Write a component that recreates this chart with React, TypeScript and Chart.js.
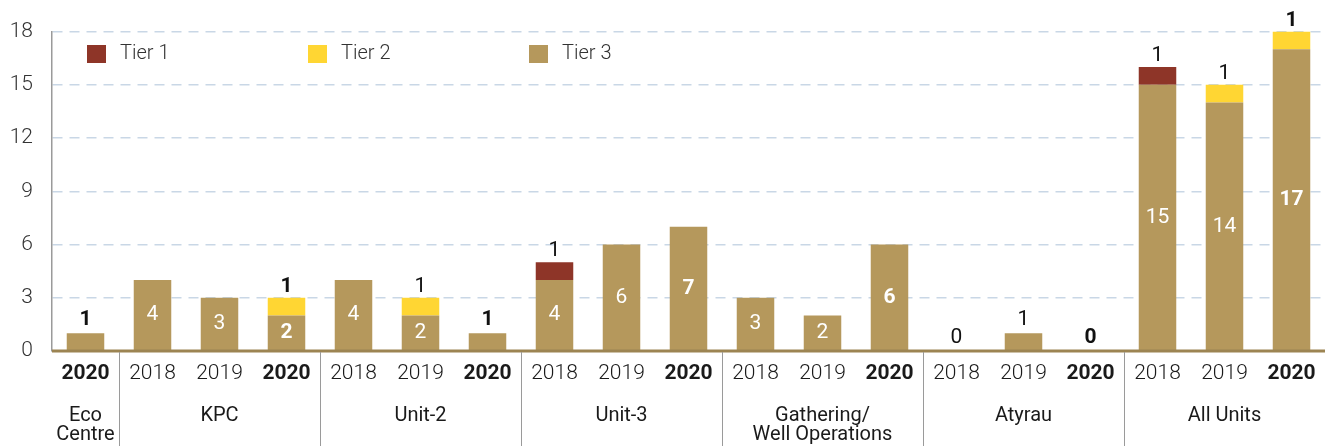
import React, { useEffect, useRef } from 'react';
import { Chart, registerables } from 'chart.js';

Chart.register(...registerables);

// ---- data ----
const yearLabels = ['2020', '2018', '2019', '2020', '2018', '2019', '2020', '2018', '2019', '2020', '2018', '2019', '2020', '2018', '2019', '2020', '2018', '2019', '2020'];
const groupNames = [['Eco', 'Centre'], ['KPC'], ['Unit-2'], ['Unit-3'], ['Gathering/', 'Well Operations'], ['Atyrau'], ['All Units']];
const groupSizes = [1, 3, 3, 3, 3, 3, 3];
const tier1 = [0, 0, 0, 0, 0, 0, 0, 1, 0, 0, 0, 0, 0, 0, 0, 0, 1, 0, 0];
const tier2 = [0, 0, 0, 1, 0, 1, 0, 0, 0, 0, 0, 0, 0, 0, 0, 0, 0, 1, 1];
const tier3 = [1, 4, 3, 2, 4, 2, 1, 4, 6, 7, 3, 2, 6, 0, 1, 0, 15, 14, 17];
const seriesNames = ['Tier 1', 'Tier 2', 'Tier 3'];
const seriesColors = ['#8E3528', '#FFD633', '#B5985C'];
const yMax = 18;
const yStep = 3;

const FONT = 'Roboto, "Noto Sans", sans-serif';

const overlayPlugin = {
  id: 'overlay',
  afterDatasetsDraw(chart: any) {
    const { ctx, chartArea } = chart;
    const xs = chart.scales.x;
    const ys = chart.scales.y;
    const y0 = ys.getPixelForValue(0);
    ctx.save();
    // baseline
    ctx.strokeStyle = '#9C8452';
    ctx.lineWidth = 3;
    ctx.beginPath();
    ctx.moveTo(chartArea.left, y0);
    ctx.lineTo(chartArea.right, y0);
    ctx.stroke();

    // group separators and names
    let start = 0;
    ctx.fillStyle = '#1a1a1a';
    ctx.textAlign = 'center';
    ctx.textBaseline = 'middle';
    ctx.font = `400 20px ${FONT}`;
    groupSizes.forEach((size, g) => {
      const end = start + size - 1;
      const cx = (xs.getPixelForValue(start) + xs.getPixelForValue(end)) / 2;
      const lines = groupNames[g];
      lines.forEach((ln, k) => {
        ctx.fillText(ln, cx, 416 + k * 19);
      });
      if (g < groupSizes.length - 1) {
        const sx = Math.round((xs.getPixelForValue(end) + xs.getPixelForValue(end + 1)) / 2) + 0.5;
        ctx.strokeStyle = '#9a9a9a';
        ctx.lineWidth = 1;
        ctx.beginPath();
        ctx.moveTo(sx, y0 + 1);
        ctx.lineTo(sx, chart.height);
        ctx.stroke();
      }
      start = end + 1;
    });

    // value labels
    const m3 = chart.getDatasetMeta(0);
    const m2 = chart.getDatasetMeta(1);
    const m1 = chart.getDatasetMeta(2);
    ctx.textAlign = 'center';
    for (let i = 0; i < tier3.length; i++) {
      const bold = yearLabels[i] === '2020';
      const w = bold ? 700 : 400;
      ctx.font = `${w} 21px ${FONT}`;
      const b3 = m3.data[i];
      if (tier3[i] >= 2) {
        ctx.fillStyle = '#ffffff';
        ctx.textBaseline = 'middle';
        ctx.fillText(String(tier3[i]), b3.x, (b3.y + b3.base) / 2);
      } else {
        ctx.fillStyle = '#111111';
        ctx.textBaseline = 'alphabetic';
        ctx.fillText(String(tier3[i]), b3.x, b3.y - 8);
      }
      [[tier2, m2], [tier1, m1]].forEach(([arr, meta]: any) => {
        if (arr[i] > 0) {
          const el = meta.data[i];
          ctx.fillStyle = '#111111';
          ctx.textBaseline = 'alphabetic';
          ctx.fillText(String(arr[i]), el.x, el.y - 6);
        }
      });
    }

    // legend
    ctx.textBaseline = 'middle';
    ctx.textAlign = 'left';
    ctx.font = `300 20px ${FONT}`;
    seriesNames.forEach((name, k) => {
      const lx = chartArea.left + 35 + k * 221;
      ctx.fillStyle = seriesColors[k];
      ctx.fillRect(lx, 45, 19, 18);
      ctx.fillStyle = '#333333';
      ctx.fillText(name, lx + 33, 54);
    });
    ctx.restore();
  },
};

export default function App() {
  const ref = useRef<HTMLCanvasElement>(null);
  useEffect(() => {
    document.body.style.margin = '0';
    const chart = new Chart(ref.current as HTMLCanvasElement, {
      type: 'bar',
      data: {
        labels: yearLabels,
        datasets: [
          { label: seriesNames[2], data: tier3, backgroundColor: seriesColors[2], barPercentage: 0.56, categoryPercentage: 1 },
          { label: seriesNames[1], data: tier2, backgroundColor: seriesColors[1], barPercentage: 0.56, categoryPercentage: 1 },
          { label: seriesNames[0], data: tier1, backgroundColor: seriesColors[0], barPercentage: 0.56, categoryPercentage: 1 },
        ],
      },
      options: {
        animation: false,
        responsive: true,
        maintainAspectRatio: false,
        devicePixelRatio: 1,
        layout: { padding: { top: 28, right: 1, left: 0, bottom: 0 } },
        plugins: { legend: { display: false }, tooltip: { enabled: false } },
        scales: {
          x: {
            stacked: true,
            grid: { display: false, drawTicks: false },
            border: { display: false },
            ticks: {
              autoSkip: false,
              maxRotation: 0,
              padding: 10,
              color: '#1a1a1a',
              font: (c: any) => ({
                family: FONT,
                size: 21,
                weight: yearLabels[c.index] === '2020' ? 'bold' : '300',
              }),
            },
            afterFit: (s: any) => { s.height = 95; },
          },
          y: {
            stacked: true,
            min: 0,
            max: yMax,
            grid: { color: '#C9D7E6', lineWidth: 1.5, drawTicks: false },
            border: { display: true, color: '#9a9a9a', width: 1.5, dash: [10, 7] },
            ticks: {
              stepSize: yStep,
              padding: 19,
              color: '#333333',
              font: { family: FONT, size: 21, weight: '300' },
            },
            afterFit: (s: any) => { s.width = 52; },
          },
        },
      },
      plugins: [overlayPlugin],
    });
    return () => chart.destroy();
  }, []);
  return (
    <div style={{ position: 'relative', width: 1326, height: 446 }}>
      <canvas ref={ref} />
    </div>
  );
}
